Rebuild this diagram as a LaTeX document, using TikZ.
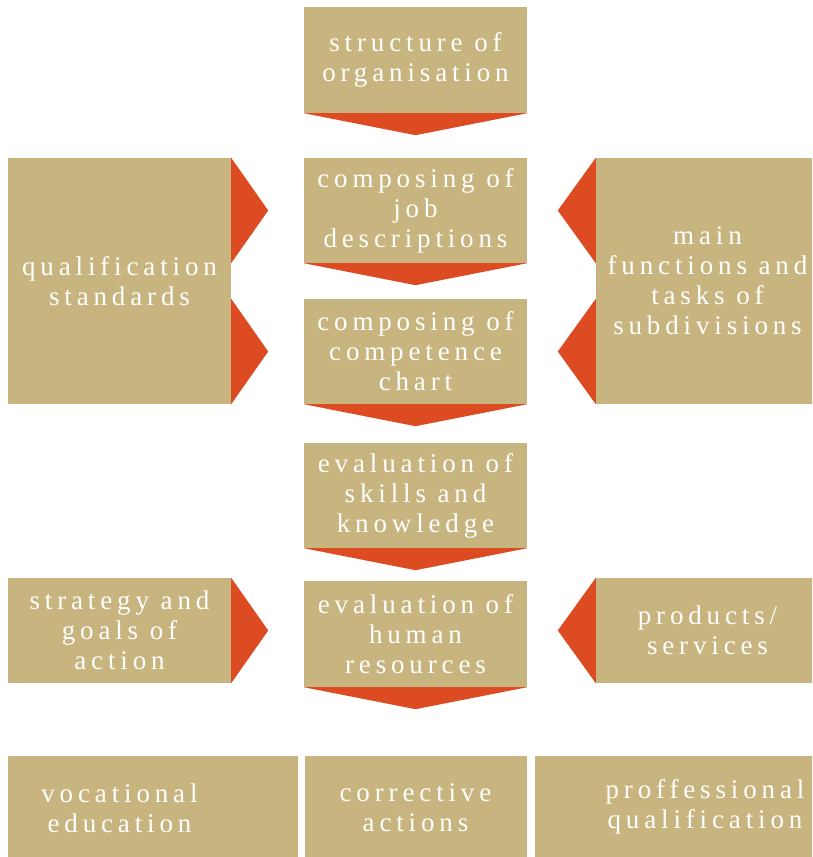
\documentclass[tikz,border=0pt]{standalone}
\usepackage{fontspec}
\setmainfont{Liberation Serif}[LetterSpace=18]
\usetikzlibrary{calc}
\definecolor{boxtan}{RGB}{200,180,127}
\definecolor{arrorange}{RGB}{221,75,34}
\tikzset{
  stepbox/.style={rectangle, fill=boxtan, draw=none, inner sep=0pt,
    minimum width=223pt, text=white, align=center,
    font=\fontsize{27}{30}\selectfont},
  labeltext/.style={inner sep=0pt, text=white, align=center,
    font=\fontsize{27}{30}\selectfont},
  pointer/.style={fill=arrorange, draw=none}
}
\begin{document}
\begin{tikzpicture}[x=1pt,y=-1pt]
\useasboundingbox (0,0) rectangle (812,857);
\clip (0,0) rectangle (812,857);

% central chain of steps
\node[stepbox, minimum height=106pt] (s1) at (415.5,60)  {structure of\\organisation};
\node[stepbox, minimum height=105pt] (s2) at (415.5,210.5) {composing of\\job\\descriptions};
\node[stepbox, minimum height=105pt] (s3) at (415.5,351.5) {composing of\\competence\\chart};
\node[stepbox, minimum height=105pt] (s4) at (415.5,495.5) {evaluation of\\skills and\\knowledge};
\node[stepbox, minimum height=106pt] (s5) at (415.5,634)   {evaluation of\\human\\resources};

% side inputs
\node[stepbox, minimum height=246pt] (q) at (119.5,281)   {qualification\\standards};
\node[stepbox, minimum height=246pt] (m) at (707.5,281)   {main\\functions and\\tasks of\\subdivisions};
\node[stepbox, minimum height=105pt] (g) at (119.5,630.5) {strategy and\\goals of\\action};
\node[stepbox, minimum height=105pt] (p) at (707.5,630.5) {products/\\services};

% downward chevrons under each step
\foreach \n in {s1,s2,s3,s4,s5}{
  \fill[pointer] (\n.south west) -- (\n.south east) -- ($(\n.south)+(0,22)$) -- cycle;
}

% sideways pointers into the chain
\fill[pointer] (s2.north west -| q.east) -- ($(s2.west -| q.east)+(37,0)$) -- (s2.south west -| q.east) -- cycle;
\fill[pointer] (s3.north west -| q.east) -- ($(s3.west -| q.east)+(37,0)$) -- (s3.south west -| q.east) -- cycle;
\fill[pointer] (s2.north east -| m.west) -- ($(s2.east -| m.west)+(-38,0)$) -- (s2.south east -| m.west) -- cycle;
\fill[pointer] (s3.north east -| m.west) -- ($(s3.east -| m.west)+(-38,0)$) -- (s3.south east -| m.west) -- cycle;
\fill[pointer] (g.north east) -- ($(g.east)+(37,0)$) -- (g.south east) -- cycle;
\fill[pointer] (p.north west) -- ($(p.west)+(-38,0)$) -- (p.south west) -- cycle;

% outcome row
\fill[boxtan] (8,756) rectangle (298,860);
\fill[boxtan] (305,756) rectangle (527,860);
\fill[boxtan] (535,756) rectangle (830,860);
\node[labeltext] (b1) at (119.5,808) {vocational\\education};
\node[labeltext] (b2) at (415.5,808) {corrective\\actions};
\node[labeltext] (b3) at (705,807)   {proffessional\\qualification};
\end{tikzpicture}
\end{document}
